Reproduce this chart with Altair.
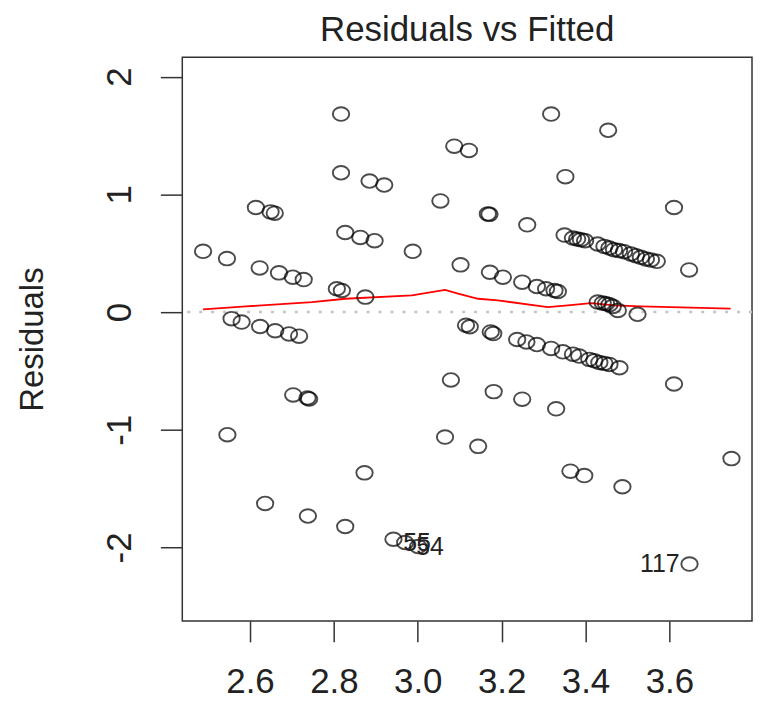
import altair as alt
import pandas as pd

# Fitted values (x) and residuals (y)
fitted = [
    2.488, 2.545, 2.614, 2.649, 2.659, 2.623, 2.669, 2.702, 2.728,
    2.817, 2.817, 2.885, 2.920, 2.827, 2.863, 2.897, 2.807, 2.819, 2.875,
    2.988, 3.054, 3.087, 3.122, 3.102,
    2.556, 2.580, 2.624, 2.660, 2.693, 2.717,
    2.703, 2.737, 2.741, 2.546, 3.079, 3.065, 3.144, 2.873, 2.636, 2.738, 2.827,
    2.942, 2.970, 3.001,
    3.115, 3.124, 3.174, 3.180, 3.237, 3.259, 3.284, 3.318, 3.346, 3.370, 3.385,
    3.409, 3.421, 3.433, 3.445, 3.457, 3.481,
    3.611, 3.181, 3.249, 3.330, 3.364, 3.397, 3.488, 3.748, 3.648,
    3.318, 3.454, 3.352, 3.167, 3.171, 3.261, 3.611, 3.647,
    3.172, 3.203, 3.249, 3.284, 3.306, 3.326, 3.334,
    3.350, 3.370, 3.380, 3.389, 3.399, 3.429, 3.445, 3.457, 3.468, 3.480,
    3.492, 3.508, 3.520, 3.532, 3.544, 3.556, 3.570,
    3.429, 3.441, 3.449, 3.457, 3.465, 3.477, 3.524,
]
residuals = [
    0.516, 0.454, 0.888, 0.851, 0.840, 0.375, 0.333, 0.296, 0.276,
    1.682, 1.183, 1.113, 1.079, 0.676, 0.634, 0.606, 0.198, 0.183, 0.127,
    0.516, 0.944, 1.409, 1.373, 0.401,
    -0.056, -0.085, -0.123, -0.159, -0.186, -0.205,
    -0.704, -0.730, -0.738, -1.042, -0.577, -1.062, -1.141, -1.366, -1.626, -1.733, -1.822,
    -1.930, -1.958, -1.992,
    -0.112, -0.125, -0.169, -0.183, -0.233, -0.254, -0.276, -0.309, -0.338, -0.358, -0.374,
    -0.402, -0.414, -0.428, -0.436, -0.445, -0.473,
    -0.611, -0.676, -0.740, -0.822, -1.352, -1.389, -1.484, -1.245, -2.141,
    1.682, 1.544, 1.150, 0.834, 0.830, 0.741, 0.888, 0.358,
    0.338, 0.296, 0.254, 0.217, 0.198, 0.183, 0.175,
    0.654, 0.629, 0.620, 0.615, 0.606, 0.578, 0.558, 0.544, 0.530, 0.522,
    0.513, 0.494, 0.479, 0.465, 0.451, 0.443, 0.431,
    0.085, 0.076, 0.071, 0.063, 0.048, 0.014, -0.019,
]

# Smoothed (lowess) curve
smooth_x = [2.488, 2.590, 2.748, 2.827, 2.986, 3.065, 3.096, 3.144, 3.191,
            3.310, 3.358, 3.413, 3.469, 3.532, 3.746]
smooth_y = [0.023, 0.048, 0.085, 0.113, 0.141, 0.189, 0.156, 0.113, 0.099,
            0.042, 0.057, 0.076, 0.057, 0.048, 0.029]

# Labelled observations
label_text = ["55", "54", "117"]
label_x = [2.970, 3.001, 3.648]
label_y = [-1.958, -1.992, -2.141]

title_text = ["Residuals vs Fitted"]
x_ticks = [2.6, 2.8, 3.0, 3.2, 3.4, 3.6]
y_ticks = [-2, -1, 0, 1, 2]
x_domain = [2.4385, 3.797]
y_domain = [-2.624, 2.165]

FONT = "Liberation Sans"
INK = "#222222"
W, H = 572, 566
# open circle, slightly wider than tall as in the reference image
ELLIPSE = "M -1 0 A 1 0.83 0 1 0 1 0 A 1 0.83 0 1 0 -1 0 Z"

pts = pd.DataFrame({"fitted": fitted, "resid": residuals})
smooth = pd.DataFrame({"fitted": smooth_x, "resid": smooth_y})
labs = pd.DataFrame({"fitted": label_x, "resid": label_y, "lab": label_text})

xscale = alt.Scale(domain=x_domain, nice=False, zero=False)
yscale = alt.Scale(domain=y_domain, nice=False, zero=False)

x_axis = alt.Axis(
    values=x_ticks, labelExpr="format(datum.value, '.1f')", title=None,
    grid=False, domain=False, tickSize=21, tickWidth=1.5, tickColor="#333333",
    labelFont=FONT, labelFontSize=35, labelColor=INK, labelPadding=51,
    labelBaseline="alphabetic", labelAlign="center",
)
y_axis = alt.Axis(
    values=y_ticks, labelExpr="'' + datum.value", title="Residuals",
    grid=False, domain=False, tickSize=22, tickWidth=1.5, tickColor="#333333",
    labelFont=FONT, labelFontSize=35, labelColor=INK, labelPadding=30,
    labelAngle=270, labelAlign="center", labelBaseline="alphabetic",
    titleFont=FONT, titleFontSize=33, titleFontWeight="normal", titleColor=INK,
    titleAngle=270, titleAlign="center", titleBaseline="alphabetic",
    titleX=-140, titleY=283,
)

zero = alt.Chart(pd.DataFrame({"z": [0]})).mark_rule(
    color="#c4c4c4", strokeWidth=2.5, strokeDash=[3, 9]
).encode(y=alt.Y("z:Q", scale=yscale, axis=y_axis))

line = alt.Chart(smooth).mark_line(color="#ff0000", strokeWidth=1.8).encode(
    x=alt.X("fitted:Q", scale=xscale, axis=x_axis),
    y=alt.Y("resid:Q", scale=yscale),
)

points = alt.Chart(pts).mark_point(
    shape=ELLIPSE, filled=False, size=270, color="black", strokeWidth=1.9
).encode(
    x=alt.X("fitted:Q", scale=xscale),
    y=alt.Y("resid:Q", scale=yscale),
)

left_labels = alt.Chart(labs[labs["lab"] != "117"]).mark_text(
    align="left", baseline="middle", dx=-2, font=FONT, fontSize=25, color=INK
).encode(x=alt.X("fitted:Q", scale=xscale), y=alt.Y("resid:Q", scale=yscale), text="lab:N")

right_labels = alt.Chart(labs[labs["lab"] == "117"]).mark_text(
    align="right", baseline="middle", dx=-10, font=FONT, fontSize=25, color=INK
).encode(x=alt.X("fitted:Q", scale=xscale), y=alt.Y("resid:Q", scale=yscale), text="lab:N")

title = alt.Chart(pd.DataFrame({"t": title_text})).mark_text(
    align="center", baseline="alphabetic", font=FONT, fontSize=35, color=INK
).encode(x=alt.value(W / 2), y=alt.value(-16), text="t:N")

chart = alt.layer(zero, line, points, left_labels, right_labels, title).properties(
    width=W,
    height=H,
    autosize=alt.AutoSizeParams(type="none"),
    padding={"left": 175, "top": 48, "right": 2, "bottom": 80},
).configure_view(stroke="#333333", strokeWidth=1.5)

chart.save("out.html", embed_options={"renderer": "svg", "actions": False})
